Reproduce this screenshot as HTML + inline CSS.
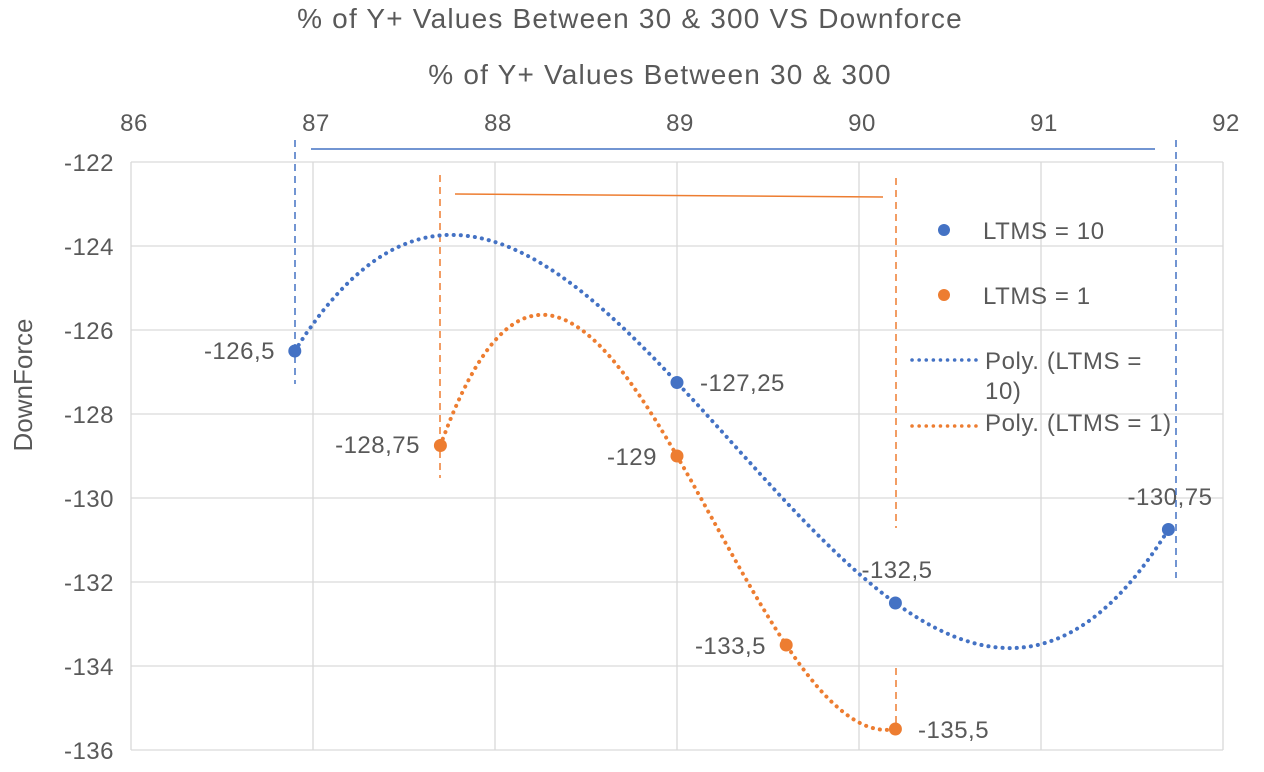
<!DOCTYPE html>
<html><head><meta charset="utf-8"><style>
body{margin:0;background:#fff}
svg text{font-family:"Liberation Sans",sans-serif;fill:#595959}
</style></head><body>
<svg id="s" width="1264" height="767" xmlns="http://www.w3.org/2000/svg">
<rect width="1264" height="767" fill="#fff"/>
<text x="630" y="28" font-size="28" letter-spacing="1.2" text-anchor="middle">% of Y+ Values Between 30 &amp; 300 VS Downforce</text>
<text x="660" y="84" font-size="28" letter-spacing="1.2" text-anchor="middle">% of Y+ Values Between 30 &amp; 300</text>
<text x="32" y="385" font-size="26" text-anchor="middle" transform="rotate(-90 32 385)">DownForce</text>
<g id="grid" stroke="#d9d9d9" stroke-width="1.3" fill="none"></g>
<g id="lab" font-size="24" letter-spacing="0.5"></g>
<g id="ser"></g>
<g font-size="24" letter-spacing="0.6">
<circle cx="944" cy="230" r="6" fill="#4472c4"/><text x="983" y="239">LTMS = 10</text>
<circle cx="944" cy="295" r="6" fill="#ed7d31"/><text x="983" y="304">LTMS = 1</text>
<line x1="912" y1="360" x2="980" y2="360" stroke="#4472c4" stroke-width="3.5" stroke-dasharray="0.1 7" stroke-linecap="round"/>
<text x="985" y="369">Poly. (LTMS =</text><text x="985" y="399">10)</text>
<line x1="912" y1="426" x2="980" y2="426" stroke="#ed7d31" stroke-width="3.5" stroke-dasharray="0.1 7" stroke-linecap="round"/>
<text x="985" y="431">Poly. (LTMS = 1)</text>
</g>
</svg>
<script>
const X=v=>131+(v-86)*182, Y=v=>162+(-122-v)*42;
const ns="http://www.w3.org/2000/svg";
function el(p,t,a,txt){const e=document.createElementNS(ns,t);for(const k in a)e.setAttribute(k,a[k]);if(txt!=null)e.textContent=txt;document.getElementById(p).appendChild(e);return e;}
for(let v=-122;v>=-136;v-=2){el("grid","line",{x1:131,x2:1223,y1:Y(v),y2:Y(v)});el("lab","text",{x:114,y:Y(v)+9,"text-anchor":"end"},String(v));}
for(let v=86;v<=92;v++){el("grid","line",{x1:X(v),x2:X(v),y1:162,y2:750});el("lab","text",{x:X(v)+3,y:131,"text-anchor":"middle"},v);}
function lag(p,x){let s=0;for(let i=0;i<p.length;i++){let t=p[i][1];for(let j=0;j<p.length;j++)if(j!=i)t*=(x-p[j][0])/(p[i][0]-p[j][0]);s+=t;}return s;}
function curve(p,c){let d="";const a=p[0][0],b=p[p.length-1][0];for(let k=0;k<=300;k++){const x=a+(b-a)*k/300;d+=(k?"L":"M")+X(x).toFixed(1)+" "+Y(lag(p,x)).toFixed(1);}el("ser","path",{d,fill:"none",stroke:c,"stroke-width":4,"stroke-dasharray":"0.1 7","stroke-linecap":"round"});}
const B=[[86.9,-126.5],[89,-127.25],[90.2,-132.5],[91.7,-130.75]];
const O=[[87.7,-128.75],[89,-129],[89.6,-133.5],[90.2,-135.5]];
const bl="#4472c4",or="#ed7d31";
const L=(x1,y1,x2,y2,c,dash)=>el("ser","line",{x1,y1,x2,y2,stroke:c,"stroke-width":1.5,"stroke-dasharray":dash?"7 5":"none"});
L(295,140,295,384,bl,1);L(1176,140,1176,578,bl,1);L(311,149,1155,149,bl,0);
L(440,175,440,478,or,1);L(896,178,896,528,or,1);L(896,668,896,735,or,1);L(455,194,883,197,or,0);
curve(B,bl);curve(O,or);
for(const p of B)el("ser","circle",{cx:X(p[0]),cy:Y(p[1]),r:6.5,fill:bl});
for(const p of O)el("ser","circle",{cx:X(p[0]),cy:Y(p[1]),r:6.5,fill:or});
const T=[[275,359,"end","-126,5"],[700,391,"start","-127,25"],[1170,505,"middle","-130,75"],[897,578,"middle","-132,5"],[420,453,"end","-128,75"],[657,465,"end","-129"],[766,654,"end","-133,5"],[918,738,"start","-135,5"]];
for(const t of T)el("lab","text",{x:t[0],y:t[1],"text-anchor":t[2]},t[3]);
</script>
</body></html>
